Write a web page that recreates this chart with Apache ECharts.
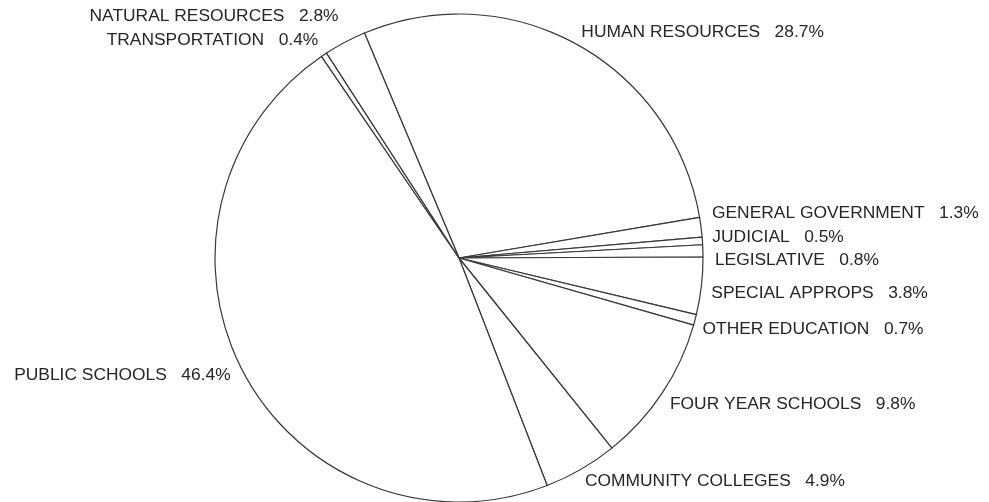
<!DOCTYPE html>
<html>
<head>
<meta charset="utf-8">
<script src="https://cdn.jsdelivr.net/npm/echarts@6/dist/echarts.min.js"></script>
<style>
  html, body { margin: 0; padding: 0; background: #ffffff; }
  #chart { width: 989px; height: 502px; }
</style>
</head>
<body>
<div id="chart"></div>
<script>
// Budget shares by area, listed clockwise from the top
const categories = [
  'HUMAN RESOURCES',
  'GENERAL GOVERNMENT',
  'JUDICIAL',
  'LEGISLATIVE',
  'SPECIAL APPROPS',
  'OTHER EDUCATION',
  'FOUR YEAR SCHOOLS',
  'COMMUNITY COLLEGES',
  'PUBLIC SCHOOLS',
  'TRANSPORTATION',
  'NATURAL RESOURCES'
];
const shares = [28.7, 1.3, 0.5, 0.8, 3.8, 0.7, 9.8, 4.9, 46.4, 0.4, 2.8];

// Hand spacing for labels of the thin slices, so neighbours don't collide
const labelNudge = {
  'HUMAN RESOURCES':    [-2, 0],
  'GENERAL GOVERNMENT': [-3, -12],
  'JUDICIAL':           [-4, -3],
  'LEGISLATIVE':        [-2, 10],
  'SPECIAL APPROPS':    [-4, 6],
  'OTHER EDUCATION':    [-6, 6],
  'FOUR YEAR SCHOOLS':  [-4, 4],
  'COMMUNITY COLLEGES': [-3, 0],
  'PUBLIC SCHOOLS':     [0, -3],
  'TRANSPORTATION':     [2, -3],
  'NATURAL RESOURCES':  [0, -14]
};

const chart = echarts.init(document.getElementById('chart'), null, { renderer: 'canvas' });

chart.setOption({
  backgroundColor: '#ffffff',
  animation: false,
  series: [{
    type: 'pie',
    center: [459, 258],
    radius: 244,
    startAngle: 112.8,
    clockwise: true,
    avoidLabelOverlap: false,
    data: categories.map((name, i) => ({ name: name, value: shares[i] })),
    itemStyle: {
      color: '#ffffff',
      borderColor: '#383838',
      borderWidth: 1.2
    },
    emphasis: { disabled: true },
    label: {
      show: true,
      position: 'outside',
      color: '#262626',
      fontFamily: 'Liberation Sans, Arial, sans-serif',
      fontSize: 17.4,
      distanceToLabelLine: 0,
      formatter: p => p.name + '   ' + p.value.toFixed(1) + '%'
    },
    labelLine: {
      show: false,
      length: 14,
      length2: 0
    },
    labelLayout: function (params) {
      const n = labelNudge[categories[params.dataIndex]] || [0, 0];
      return { dx: n[0], dy: n[1] };
    }
  }]
});
</script>
</body>
</html>
